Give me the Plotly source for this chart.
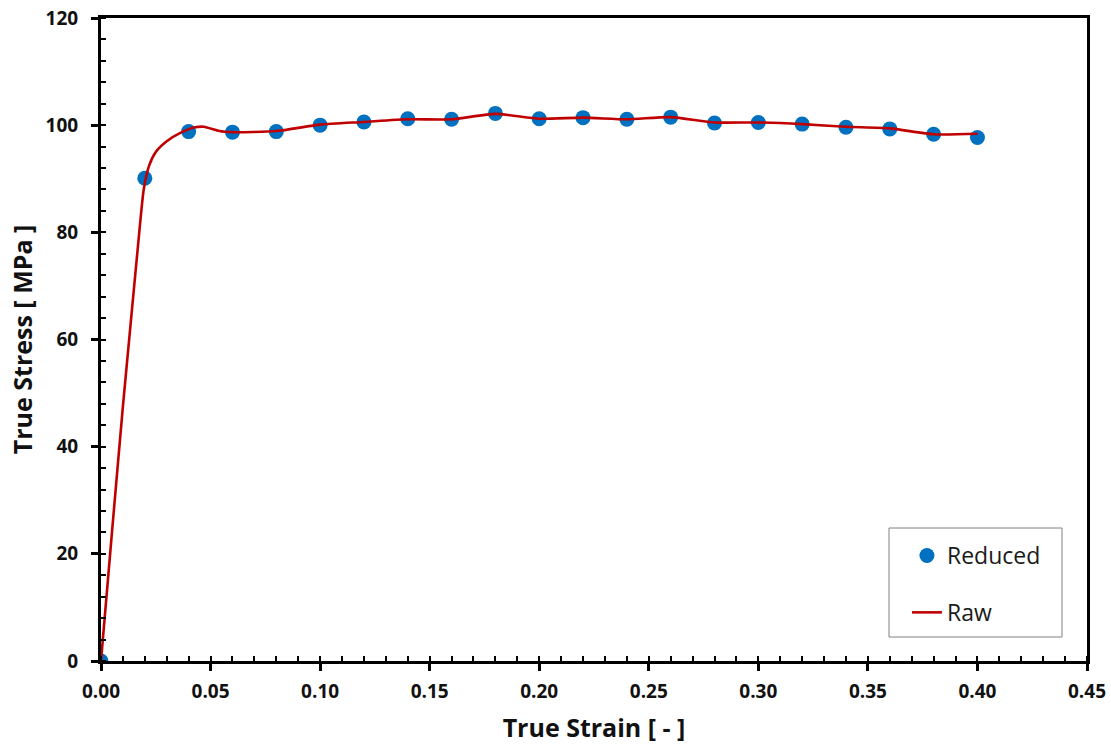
import plotly.graph_objects as go

# Reduced data points
reduced_strain = [0.00, 0.02, 0.04, 0.06, 0.08, 0.10, 0.12, 0.14, 0.16, 0.18, 0.20,
                  0.22, 0.24, 0.26, 0.28, 0.30, 0.32, 0.34, 0.36, 0.38, 0.40]
reduced_stress = [0.0, 90.1, 98.8, 98.7, 98.8, 100.0, 100.6, 101.2, 101.1, 102.2, 101.2,
                  101.4, 101.1, 101.5, 100.4, 100.5, 100.2, 99.6, 99.3, 98.3, 97.7]

# Raw curve
raw_strain = [0.0, 0.005, 0.010, 0.014, 0.017, 0.0195, 0.022, 0.025, 0.030, 0.036,
              0.043, 0.047, 0.054, 0.060, 0.080, 0.100, 0.120, 0.140, 0.160, 0.180,
              0.200, 0.220, 0.240, 0.260, 0.280, 0.300, 0.320, 0.340, 0.360, 0.380, 0.400]
raw_stress = [0.0, 24.0, 47.5, 65.0, 78.0, 88.0, 92.5, 95.0, 97.0, 98.5,
              99.6, 99.7, 98.9, 98.7, 98.9, 100.1, 100.6, 101.1, 101.1, 102.1,
              101.2, 101.4, 101.1, 101.5, 100.5, 100.5, 100.2, 99.7, 99.4, 98.3, 98.4]

x_ticks = [0.00, 0.05, 0.10, 0.15, 0.20, 0.25, 0.30, 0.35, 0.40, 0.45]
y_ticks = [0, 20, 40, 60, 80, 100, 120]

FONT = "Open Sans"

fig = go.Figure()
fig.add_trace(go.Scatter(
    x=reduced_strain, y=reduced_stress, mode="markers", name="Reduced",
    marker=dict(color="#0070C0", size=15), legendgroup="a"))
fig.add_trace(go.Scatter(
    x=raw_strain, y=raw_stress, mode="lines", name="Raw",
    line=dict(color="#C00000", width=2.6, shape="spline", smoothing=0.6),
    legendgroup="b"))

axis_common = dict(
    showline=True, linecolor="black", linewidth=3, mirror=True,
    showgrid=False, zeroline=False, automargin=False,
    ticks="outside", ticklen=7, tickwidth=2.5, tickcolor="black",
    tickfont=dict(family=FONT, size=19, color="#111111", weight="bold"),
)

fig.update_layout(
    width=1111, height=745,
    paper_bgcolor="white", plot_bgcolor="white",
    margin=dict(l=101, r=24, t=18, b=84),
    xaxis=dict(
        **axis_common, range=[0, 0.45], tickvals=x_ticks,
        ticktext=[f"{v:.2f}" for v in x_ticks], ticklabelstandoff=4,
        minor=dict(ticks="inside", dtick=0.01, tick0=0, ticklen=5, tickwidth=2, tickcolor="black"),
        title=dict(text="True Strain [ - ]", standoff=17,
                   font=dict(family=FONT, size=25, color="#111111", weight="bold")),
    ),
    yaxis=dict(
        **axis_common, range=[0, 120], tickvals=y_ticks, ticklabelstandoff=9,
        minor=dict(ticks="inside", dtick=4, tick0=0, ticklen=5, tickwidth=2, tickcolor="black"),
        title=dict(text="True Stress [ MPa ]", standoff=6,
                   font=dict(family=FONT, size=25, color="#111111", weight="bold")),
    ),
    legend=dict(
        x=0.8174, y=0.1975, xanchor="left", yanchor="top",
        bgcolor="rgba(0,0,0,0)", borderwidth=0,
        font=dict(family=FONT, size=23, color="#1a1a1a"),
        tracegroupgap=24, traceorder="grouped",
        itemwidth=30,
    ),
    shapes=[dict(type="rect", xref="paper", yref="paper",
                 x0=(889 - 101) / 986, x1=(1062 - 101) / 986,
                 y0=(661 - 637) / 643, y1=(661 - 528) / 643,
                 line=dict(color="#808080", width=1), fillcolor="white", layer="below")],
    showlegend=True,
)

fig.write_html("out.html")
